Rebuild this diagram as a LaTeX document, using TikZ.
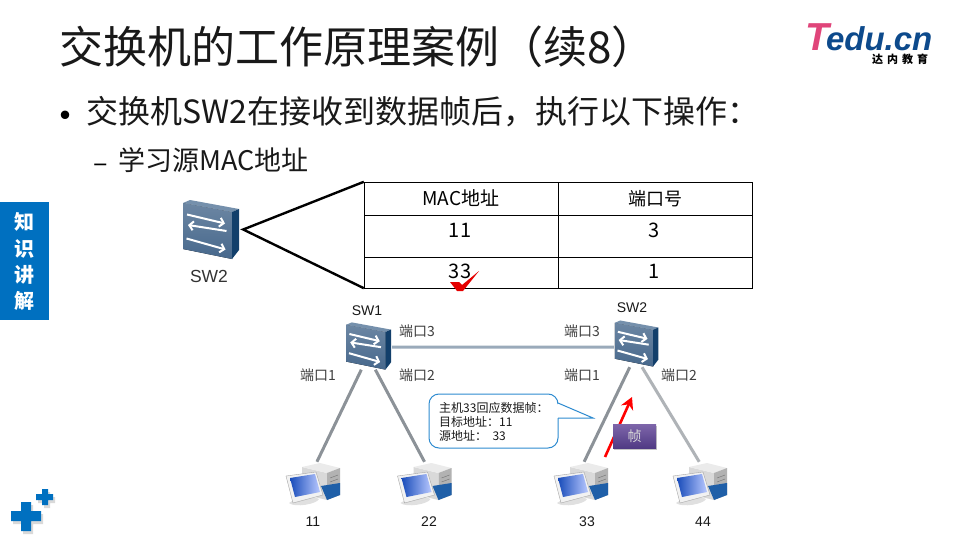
\documentclass[tikz,border=0pt]{standalone}
\usepackage{fontspec}
\setmainfont{Noto Sans CJK SC}
\newfontfamily\logofont{Liberation Sans}
\usetikzlibrary{arrows.meta,shadows}
\definecolor{eduazul}{HTML}{0070C0}
\definecolor{edulogo}{HTML}{0D4A8C}
\definecolor{edurosa}{HTML}{E0457A}
\definecolor{enlace}{HTML}{8C9298}
\definecolor{enlaceh}{HTML}{9AAABA}
\definecolor{globo}{HTML}{2E8BD0}
\definecolor{swfront}{HTML}{47688C}
\definecolor{swtop}{HTML}{7590AC}
\definecolor{swside}{HTML}{123F6B}
\definecolor{pcbase}{HTML}{1F5FA8}
\definecolor{pcluz}{HTML}{B8C8FF}
\definecolor{tramaa}{HTML}{7E66AA}
\definecolor{tramab}{HTML}{503A84}
\newcommand{\fs}[1]{\fontsize{#1}{#1}\selectfont}
\newcommand{\swicon}[2]{
    \begin{scope}[shift={(#1.center)},scale=#2]
        \fill[top color=swfront!80!white,bottom color=swfront] (-28.5,-26.5) -- (20.5,-17.5) -- (20.5,29.5) -- (-28.5,19.5) -- cycle;
        \fill[swtop] (-28.5,-26.5) -- (-21.5,-29.5) -- (27.5,-20.5) -- (20.5,-17.5) -- cycle;
        \fill[swside] (20.5,-17.5) -- (27.5,-20.5) -- (27.5,20.5) -- (20.5,29.5) -- cycle;
        \draw[swseta] (-24.5,-15) -- (13.5,-6);
        \draw[swseta] (15,1.5) -- (-23.5,-4.5);
        \draw[swseta] (-25,9) -- (14,20);
    \end{scope}
}
\newcommand{\pcicon}[1]{
    \begin{scope}[shift={(#1.center)}]
        \fill[black!15] (-11,-17) -- (14,-11) -- (14,16) -- (-11,10) -- cycle;
        \fill[black!8] (-11,-17) -- (7,-21) -- (27,-16) -- (14,-11) -- cycle;
        \fill[black!30] (14,-11) -- (27,-16) -- (27,11) -- (14,16) -- cycle;
        \draw[black!55] (17,-6) -- (25,-9) (17,-2) -- (25,-5);
        \fill[pcbase] (8,2) -- (27,-1) -- (27,11) -- (14,16) -- cycle;
        \fill[black!12] (-24,19) .. controls (-18,14) and (2,12) .. (6,15) .. controls (4,20) and (-18,24) .. (-24,19) -- cycle;
        \fill[black!5,draw=black!35] (-27,-8) -- (3,-12) -- (10,11) -- (-20,19) -- cycle;
        \shade[left color=pcbase!80!blue,right color=pcluz] (-23,-6) -- (2,-10) -- (7,8) -- (-18,13) -- cycle;
    \end{scope}
}
\begin{document}
\begin{tikzpicture}[
        x=1pt, y=-1pt,
        swseta/.style={draw=white, line width=2pt, -{Straight Barb[length=4pt,width=9pt]}},
        swbox/.style={shape=rectangle, minimum width=46pt, minimum height=47pt, inner sep=0pt},
        swboxg/.style={shape=rectangle, minimum width=63pt, minimum height=59pt, inner sep=0pt},
        pcbox/.style={shape=rectangle, minimum width=56pt, minimum height=44pt, inner sep=0pt},
        celda/.style={shape=rectangle, draw=black, inner sep=0pt, font=\fs{19}},
        rotulo/.style={font=\fs{14}, text=black!75, inner sep=0pt},
        nombre/.style={font=\logofont\fs{14}, text=black!90, inner sep=0pt},
        enlacep/.style={draw=enlace, line width=3pt},
        cuna/.style={draw=black, line width=2.4pt, line join=miter},
        letra/.style={font=\bfseries\fs{20}, text=white, inner sep=0pt},
        dato/.style={font=\fs{20}, inner sep=0pt},
    ]
    \useasboundingbox (0,0) rectangle (960,540);
    \fill[white] (0,0) rectangle (960,540);

    \node[anchor=west, inner sep=0pt, font=\fs{44}, text=black!90] (titulo) at (59,47) {交换机的工作原理案例（续8）};
    \node[anchor=base west, inner sep=0pt, font=\logofont\bfseries\itshape\fs{33}, text=edulogo] (logo) at (805,51) {\textcolor{edurosa}{\fs{39}T}\kern-3pt edu.cn};
    \node[inner sep=0pt, font=\bfseries\fs{11}] (logotxt) at (900,59) {达\hspace{4pt}内\hspace{4pt}教\hspace{4pt}育};

    \node[inner sep=0pt, font=\fs{40}] (bala) at (65,120.5) {•};
    \node[anchor=west, inner sep=0pt, font=\fs{32}, text=black!90] (linea1) at (86,112) {交换机SW2在接收到数据帧后，执行以下操作：};
    \node[inner sep=0pt, font=\fs{27}] (guion) at (101,168) {–};
    \node[anchor=west, inner sep=0pt, font=\fs{27}, text=black!90] (linea2) at (118,160) {学习源MAC地址};

    \node[shape=rectangle, fill=eduazul, minimum width=49pt, minimum height=118pt, inner sep=0pt] (barra) at (24.5,261) {};
    \node[letra] (k1) at (24,222) {知};
    \node[letra] (k2) at (24,249) {识};
    \node[letra] (k3) at (24,275) {讲};
    \node[letra] (k4) at (24,301) {解};

    \fill[black!15] (13,514) rectangle (43,524) (23,505) rectangle (33,534);
    \fill[black!15] (38,497) rectangle (55,503) (44,492) rectangle (50,508);
    \fill[eduazul] (11,511) rectangle (41,521) (21,502) rectangle (31,531);
    \fill[eduazul] (36,494) rectangle (53,500) (42,489) rectangle (48,505);

    \node[swboxg] (swg) at (211.5,229.5) {};
    \swicon{swg}{1}
    \node[font=\logofont\fs{17.5}, text=black!80, inner sep=0pt] (swgtxt) at (209,276) {SW2};

    \node[celda, minimum width=194pt, minimum height=33pt] (c11) at (461,198.5) {MAC地址};
    \node[celda, minimum width=194pt, minimum height=33pt, font=\fs{18}] (c12) at (655,198.5) {端口号};
    \node[celda, minimum width=194pt, minimum height=42pt] (c21) at (461,236) {};
    \node[celda, minimum width=194pt, minimum height=42pt] (c22) at (655,236) {};
    \node[celda, minimum width=194pt, minimum height=31pt] (c31) at (461,272.5) {};
    \node[celda, minimum width=194pt, minimum height=31pt] (c32) at (655,272.5) {};
    \node[dato] (t21) at (460,230) {11};
    \node[dato] (t22) at (654,230) {3};
    \node[dato] (t31) at (460,271) {33};
    \node[dato] (t32) at (654,271) {1};
    \draw[cuna] (c11.north west) -- (swg.east) -- (c31.south west);
    \fill[red!90!black] (450,282) -- (459,282) -- (462,285) -- (479,271) -- (463,291) -- (457,291) -- cycle;

    \node[swbox] (sw1) at (369,346) {};
    \node[swbox] (sw2) at (637,343.5) {};
    \node[pcbox] (pc11) at (313,484) {};
    \node[pcbox] (pc22) at (424.5,484) {};
    \node[pcbox] (pc33) at (581,484) {};
    \node[pcbox] (pc44) at (700,484) {};

    \draw[enlacep] (sw1.252) -- (pc11.80);
    \draw[enlacep] (sw1.285) -- (pc22.90);
    \draw[enlacep, draw=enlaceh] (sw1.357) -- (sw2.189);
    \draw[enlacep] (sw2.253) -- (pc33.82);
    \draw[enlacep, draw=enlace!70!white] (sw2.282) -- (pc44.92);

    \swicon{sw1}{.8}
    \swicon{sw2}{.78}
    \pcicon{pc11}
    \pcicon{pc22}
    \pcicon{pc33}
    \pcicon{pc44}

    \node[nombre] (n1) at (367,311) {SW1};
    \node[nombre] (n2) at (632,308) {SW2};
    \node[rotulo] (p1) at (318,375) {端口1};
    \node[rotulo] (p2) at (417,375) {端口2};
    \node[rotulo] (p3) at (417,331) {端口3};
    \node[rotulo] (p4) at (582,375) {端口1};
    \node[rotulo] (p5) at (679,375) {端口2};
    \node[rotulo] (p6) at (582,331) {端口3};
    \node[nombre] (h1) at (313,522) {11};
    \node[nombre] (h2) at (429,522) {22};
    \node[nombre] (h3) at (587,522) {33};
    \node[nombre] (h4) at (703,522) {44};

    \fill[white] (429,394) rectangle (558,448);
    \draw[globo, line width=1pt, rounded corners=10pt] (558,403) -- (558,394) -- (429,394) -- (429,448) -- (558,448) -- (558,418);
    \draw[globo, line width=1pt, fill=white] (558,403) -- (593,418) -- (558,418);
    \node[anchor=west, align=left, inner sep=0pt, font=\fontsize{12}{14}\selectfont, text=black!90] (globotxt) at (439,422) {主机33回应数据帧：\\目标地址：11\\源地址：\ \ 33};

    \coordinate (fini) at (605,457);
    \coordinate (ffin) at (632,397);
    \draw[red, line width=2.6pt, -{Stealth[length=12pt,width=13pt]}] (fini) -- (ffin);
    \node[shape=rectangle, minimum width=43pt, minimum height=24pt, inner sep=0pt, top color=tramaa, bottom color=tramab, drop shadow={opacity=.45,shadow xshift=1pt,shadow yshift=-2pt}, text=white!85!black, font=\fs{14}] (trama) at (634.5,436) {帧};
\end{tikzpicture}
\end{document}
